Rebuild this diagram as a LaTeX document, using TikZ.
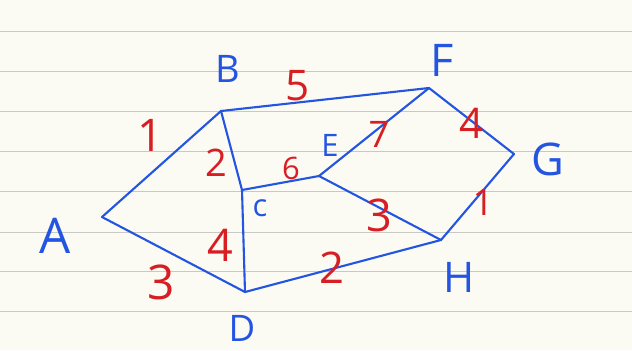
\documentclass[tikz,border=0pt]{standalone}
\usepackage{fontspec}
\setmainfont{Open Sans}
\usepackage{tikz}
\usetikzlibrary{calc}

\definecolor{inkblue}{RGB}{35,85,225}
\definecolor{inkred}{RGB}{215,30,35}
\definecolor{paper}{RGB}{251,251,243}
\definecolor{ruling}{RGB}{200,200,196}

\begin{document}
\begin{tikzpicture}[x=0.025cm, y=-0.025cm,
    edge/.style={inkblue, line width=1.5pt, line join=round, line cap=round},
    vlabel/.style={inkblue, inner sep=0pt, font=\fontsize{#1}{#1}\selectfont},
    vlabel/.default=25,
    weight/.style={inkred, inner sep=0pt, font=\fontsize{#1}{#1}\selectfont},
    weight/.default=26]
        \useasboundingbox (0,0) rectangle (632,350);

        % Lined paper
        \fill[paper] (0,0) rectangle (632,350);
        \foreach \y in {31,71,111,151,191,232,271,311}
            \draw[ruling, line width=0.6pt] (0,\y) -- (632,\y);

        % Vertices
        \coordinate (A) at (102,217);
        \coordinate (B) at (221,111);
        \coordinate (C) at (242,190);
        \coordinate (D) at (245,292);
        \coordinate (E) at (319,176);
        \coordinate (F) at (429,88);
        \coordinate (G) at (514,154);
        \coordinate (H) at (441,240);

        % Edges
        \foreach \u/\v in {A/B, A/D, B/C, B/F, C/E, C/D, D/H, E/F, E/H, F/G, G/H}
            \draw[edge] (\u) -- (\v);

        % Vertex letters
        \node[vlabel=35] (labA) at (55,236) {A};
        \node[vlabel=27] (labB) at (228,69) {B};
        \node[vlabel=22] (labC) at (260,208) {c};
        \node[vlabel=26] (labD) at (242,328) {D};
        \node[vlabel=22] (labE) at (330,145) {E};
        \node[vlabel=32] (labF) at (442,60) {F};
        \node[vlabel=32] (labG) at (548,159) {G};
        \node[vlabel=30] (labH) at (459,277) {H};

        % Edge weights
        \node[weight=32] (wAB) at (150,135) {1};
        \node[weight=30] (wBF) at (298,86) {5};
        \node[weight=27] (wBC) at (216,163) {2};
        \node[weight=22] (wCE) at (291,168) {6};
        \node[weight=26] (wEF) at (379,134) {7};
        \node[weight=30] (wFG) at (472,123) {4};
        \node[weight=32] (wCD) at (220,245) {4};
        \node[weight=32] (wEH) at (379,215) {3};
        \node[weight=26] (wGH) at (483,202) {1};
        \node[weight=31] (wDH) at (332,268) {2};
        \node[weight=34] (wAD) at (161,282) {3};
\end{tikzpicture}
\end{document}
